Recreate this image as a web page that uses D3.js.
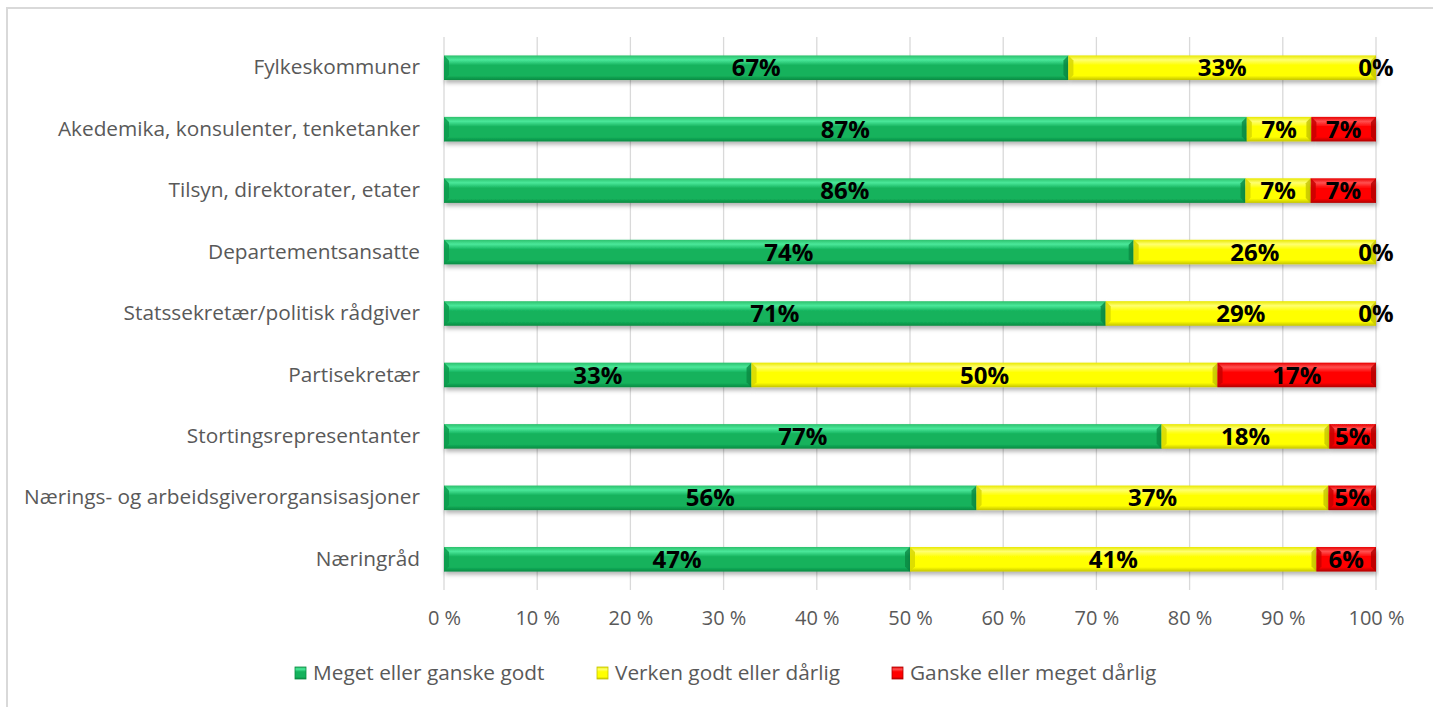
<!DOCTYPE html>
<html lang="no">
<head>
<meta charset="UTF-8">
<script src="https://d3js.org/d3.v7.min.js"></script>
<style>
  body { margin: 0; background: #fff; }
  svg { display: block; }
</style>
</head>
<body>
<div id="container"></div>
<script>
const width = 1433;
const height = 707;

// data (top to bottom)
const categories = [
    'Fylkeskommuner',
    'Akedemika, konsulenter, tenketanker',
    'Tilsyn, direktorater, etater',
    'Departementsansatte',
    'Statssekretær/politisk rådgiver',
    'Partisekretær',
    'Stortingsrepresentanter',
    'Nærings- og arbeidsgiverorgansisasjoner',
    'Næringråd'
];
const seriesNames = ['Meget eller ganske godt', 'Verken godt eller dårlig', 'Ganske eller meget dårlig'];
const godt    = [67, 87, 86, 74, 71, 33, 77, 56, 47];
const verken  = [33, 7, 7, 26, 29, 50, 18, 37, 41];
const darlig  = [0, 7, 7, 0, 0, 17, 5, 5, 6];
const tickValues = [0, 0.1, 0.2, 0.3, 0.4, 0.5, 0.6, 0.7, 0.8, 0.9, 1];

const rows = categories.map((c, i) => ({
    cat: c,
    [seriesNames[0]]: godt[i],
    [seriesNames[1]]: verken[i],
    [seriesNames[2]]: darlig[i]
}));

const colors = {
    'Meget eller ganske godt': { top: '#2cc06c', hi: '#4ae89a', base: '#14b25c', bot: '#0a8a42', bevel: '#0c9a4c' },
    'Verken godt eller dårlig': { top: '#e8e800', hi: '#ffff70', base: '#ffff00', bot: '#c4c400', bevel: '#d8d800' },
    'Ganske eller meget dårlig': { top: '#e80000', hi: '#ff5050', base: '#ff0000', bot: '#b00000', bevel: '#c80000' }
};

const margin = { top: 37, right: 57, bottom: 117, left: 444 };

const x = d3.scaleLinear().domain([0, 1]).range([margin.left, 1376]);
const y = d3.scaleBand().domain(categories).range([margin.top, height - margin.bottom]).paddingInner(0.6).paddingOuter(0.3);

const stack = d3.stack().keys(seriesNames).offset(d3.stackOffsetExpand);
const stacked = stack(rows);

const svg = d3.select('#container')
    .append('svg')
    .attr('width', width)
    .attr('height', height);

const defs = svg.append('defs');
seriesNames.forEach((s, i) => {
    const c = colors[s];
    const g = defs.append('linearGradient')
        .attr('id', 'grad' + i)
        .attr('x1', 0).attr('y1', 0).attr('x2', 0).attr('y2', 1);
    g.append('stop').attr('offset', '0%').attr('stop-color', c.top);
    g.append('stop').attr('offset', '18%').attr('stop-color', c.hi);
    g.append('stop').attr('offset', '40%').attr('stop-color', c.base);
    g.append('stop').attr('offset', '82%').attr('stop-color', c.base);
    g.append('stop').attr('offset', '100%').attr('stop-color', c.bot);
});
const shadow = defs.append('filter').attr('id', 'shadow')
    .attr('x', '-5%').attr('y', '-30%').attr('width', '110%').attr('height', '180%');
shadow.append('feDropShadow')
    .attr('dx', 1).attr('dy', 3).attr('stdDeviation', 2)
    .attr('flood-color', '#000').attr('flood-opacity', 0.3);

// chart frame
svg.append('rect')
    .attr('x', 7).attr('y', 8)
    .attr('width', width + 20).attr('height', height + 20)
    .attr('fill', '#fff')
    .attr('stroke', '#d9d9d9')
    .attr('stroke-width', 2);

// gridlines
svg.append('g')
    .selectAll('line')
    .data(tickValues)
    .join('line')
    .attr('x1', d => x(d)).attr('x2', d => x(d))
    .attr('y1', margin.top).attr('y2', height - margin.bottom)
    .attr('stroke', '#d9d9d9')
    .attr('stroke-width', 1.3);

// x axis labels
const xAxis = d3.axisBottom(x)
    .tickValues(tickValues)
    .tickFormat(d => Math.round(d * 100) + ' %')
    .tickSize(0)
    .tickPadding(0);
const xg = svg.append('g')
    .attr('transform', `translate(0, ${height - margin.bottom + 21})`)
    .call(xAxis);
xg.select('.domain').remove();
xg.selectAll('text')
    .attr('fill', '#595959')
    .style('font-family', '"Open Sans", sans-serif')
    .style('font-size', '20px');

// y axis labels
const yAxis = d3.axisLeft(y).tickSize(0).tickPadding(0);
const yg = svg.append('g')
    .attr('transform', `translate(${margin.left - 24}, 0)`)
    .call(yAxis);
yg.select('.domain').remove();
yg.selectAll('text')
    .attr('fill', '#595959')
    .style('font-family', '"Open Sans", sans-serif')
    .style('font-size', '20.8px');

// bars
const bh = y.bandwidth();
const bev = 5;
const layers = svg.append('g')
    .selectAll('g')
    .data(stacked)
    .join('g');

const seg = layers.selectAll('g')
    .data(d => d.map(p => ({ key: d.key, idx: d.index, p: p })))
    .join('g')
    .filter(d => d.p[1] - d.p[0] > 0);

seg.append('rect')
    .attr('x', d => x(d.p[0]))
    .attr('y', d => y(d.p.data.cat))
    .attr('width', d => x(d.p[1]) - x(d.p[0]))
    .attr('height', bh)
    .attr('fill', d => `url(#grad${d.idx})`)
    .attr('filter', 'url(#shadow)');

// bevel ends
seg.append('path')
    .attr('d', d => {
        const x0 = x(d.p[0]), y0 = y(d.p.data.cat);
        return `M${x0},${y0} L${x0 + bev},${y0 + bev} L${x0 + bev},${y0 + bh - bev} L${x0},${y0 + bh} Z`;
    })
    .attr('fill', d => colors[d.key].bevel)
    .attr('opacity', 0.85);
seg.append('path')
    .attr('d', d => {
        const x1 = x(d.p[1]), y0 = y(d.p.data.cat);
        return `M${x1},${y0} L${x1 - bev},${y0 + bev} L${x1 - bev},${y0 + bh - bev} L${x1},${y0 + bh} Z`;
    })
    .attr('fill', d => colors[d.key].bot)
    .attr('opacity', 0.8);

// value labels
const labelData = [];
stacked.forEach((layer, li) => {
    const vals = [godt, verken, darlig][li];
    layer.forEach((p, i) => {
        labelData.push({ cx: (p[0] + p[1]) / 2, cat: categories[i], v: vals[i] });
    });
});
svg.append('g')
    .selectAll('text')
    .data(labelData)
    .join('text')
    .attr('x', d => x(d.cx))
    .attr('y', d => y(d.cat) + bh / 2)
    .attr('dy', '0.36em')
    .attr('text-anchor', 'middle')
    .style('font-family', '"Open Sans", sans-serif')
    .style('font-weight', 'bold')
    .style('font-size', '24px')
    .attr('fill', '#000')
    .text(d => d.v + '%');

// legend
const legendX = [295, 597, 892];
const legend = svg.append('g')
    .selectAll('g')
    .data(seriesNames)
    .join('g')
    .attr('transform', (d, i) => `translate(${legendX[i]}, 667)`);
legend.append('rect')
    .attr('width', 11).attr('height', 12)
    .attr('fill', (d, i) => `url(#grad${i})`)
    .attr('stroke', d => colors[d].bot)
    .attr('stroke-width', 0.8);
legend.append('text')
    .attr('x', 18)
    .attr('y', 6)
    .attr('dy', '0.35em')
    .attr('fill', '#595959')
    .style('font-family', '"Open Sans", sans-serif')
    .style('font-size', '20.8px')
    .text(d => d);
</script>
</body>
</html>
